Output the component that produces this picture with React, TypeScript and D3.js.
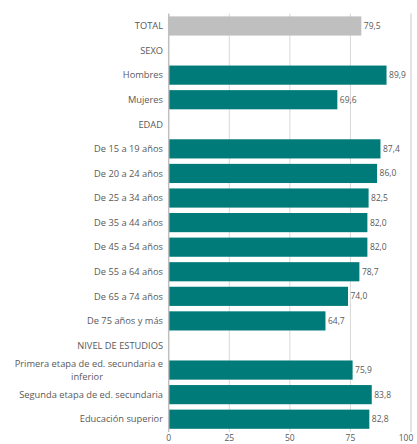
import React from "react";
import * as d3 from "d3";

const categories = [
  "TOTAL",
  "SEXO",
  "Hombres",
  "Mujeres",
  "EDAD",
  "De 15 a 19 años",
  "De 20 a 24 años",
  "De 25 a 34 años",
  "De 35 a 44 años",
  "De 45 a 54 años",
  "De 55 a 64 años",
  "De 65 a 74 años",
  "De 75 años y más",
  "NIVEL DE ESTUDIOS",
  "Primera etapa de ed. secundaria e|inferior",
  "Segunda etapa de ed. secundaria",
  "Educación superior",
];
const values: (number | null)[] = [
  79.5, null, 89.9, 69.6, null, 87.4, 86.0, 82.5, 82.0, 82.0, 78.7, 74.0, 64.7, null, 75.9, 83.8, 82.8,
];
const highlight = ["TOTAL"];
const xTicks = [0, 25, 50, 75, 100];

const W = 417;
const H = 444;
const FONT = "'Open Sans', 'DejaVu Sans', sans-serif";

export default function App() {
  const x = d3.scaleLinear().domain([0, 100]).range([168.7, 411]);
  const y = d3
    .scaleBand<string>()
    .domain(categories)
    .range([13.7, 431.5])
    .paddingInner(0.22)
    .paddingOuter(0.11);
  const fmt = (v: number) => d3.format(".1f")(v).replace(".", ",");
  const textColor = "#595959";
  const labelSize = 9.3;

  return (
    <svg
      width={W}
      height={H}
      style={{ position: "absolute", left: 0, top: 0, background: "#fff" }}
      fontFamily={FONT}
    >
      {xTicks.map((t) => (
        <g key={t}>
          {t > 0 && (
            <line x1={x(t)} x2={x(t)} y1={13.5} y2={432} stroke={t === 100 ? "#c8c8c8" : "#d9d9d9"} strokeWidth={1} />
          )}
          <text x={t === 100 ? x(t) - 5 : x(t)} y={440.5} textAnchor="middle" fontSize={8.5} fill={textColor}>
            {t}
          </text>
        </g>
      ))}
      {categories.map((c, i) => {
        const v = values[i];
        const yc = (y(c) as number) + y.bandwidth() / 2;
        const lines = c.split("|");
        return (
          <g key={c}>
            {v !== null && (
              <>
                <rect
                  x={x(0)}
                  y={y(c)}
                  width={x(v) - x(0)}
                  height={y.bandwidth()}
                  fill={highlight.includes(c) ? "#bfbfbf" : "#007b79"}
                />
                <text
                  x={x(v) + 2.5}
                  y={yc}
                  dy="0.35em"
                  fontSize={8.5}
                  fill={textColor}
                >
                  {fmt(v)}
                </text>
              </>
            )}
            {lines.length === 1 ? (
              <text
                x={163}
                y={yc}
                dy="0.35em"
                textAnchor="end"
                fontSize={labelSize}
                fill={textColor}
              >
                {c}
              </text>
            ) : (
              <>
                <text x={163} y={yc - 6.4} dy="0.35em" textAnchor="end" fontSize={labelSize} fill={textColor}>
                  {lines[0]}
                </text>
                <text x={87} y={yc + 6.4} dy="0.35em" textAnchor="middle" fontSize={labelSize} fill={textColor}>
                  {lines[1]}
                </text>
              </>
            )}
          </g>
        );
      })}
      <line x1={x(0)} x2={x(0)} y1={13.5} y2={432} stroke="#bfbfbf" strokeWidth={1.5} />
    </svg>
  );
}
